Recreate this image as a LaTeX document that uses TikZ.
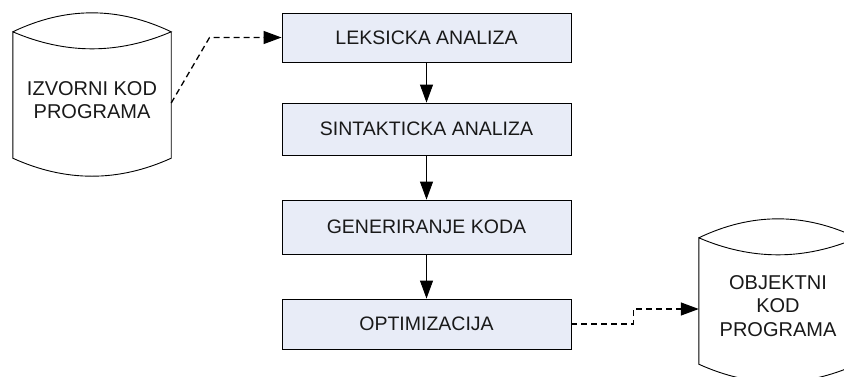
\documentclass[tikz,border=0pt]{standalone}
\usepackage{fontspec}
\setmainfont{Liberation Sans}
\usetikzlibrary{arrows.meta,calc}
\definecolor{boxfill}{RGB}{232,236,247}

% Outline of a "stored data" drum around a named body node
\newcommand\drumoutline[1]{%
  \draw[outline] (#1.north west)
    .. controls ($(#1.north west)+(53,-25.3)$) and ($(#1.north east)+(-53,-25.3)$) .. (#1.north east)
    .. controls ($(#1.north east)+(-53,22.7)$) and ($(#1.north west)+(53,22.7)$) .. (#1.north west)
    -- (#1.south west)
    .. controls ($(#1.south west)+(53,24)$) and ($(#1.south east)+(-53,24)$) .. (#1.south east)
    -- (#1.north east);}

\begin{document}
\begin{tikzpicture}[x=1pt,y=-1pt,
  stage/.style={draw=black, line width=0.9pt, fill=boxfill, minimum width=289pt,
    inner sep=0pt, text=black!90, font=\fontsize{19.5}{23}\selectfont},
  drumbody/.style={minimum width=158pt, minimum height=126pt, inner sep=0pt},
  drumtext/.style={align=center, inner sep=0pt, text=black!90,
    font=\fontsize{20}{23.5}\selectfont},
  outline/.style={line width=0.9pt},
  flow/.style={line width=0.9pt, -{Triangle[length=18pt,width=13pt]}},
  dataflow/.style={line width=1.3pt, dash pattern=on 6pt off 4pt,
    -{Triangle[length=18pt,width=13pt]}}]
\fill[white] (0,0) rectangle (844,376);
\useasboundingbox (0,0) rectangle (844,376);
\clip (0,0) rectangle (844,376);

% compiler stages
\node[stage, minimum height=49pt] (leks) at (426.5,37.5) {LEKSICKA ANALIZA};
\node[stage, minimum height=52pt] (sint) at (426.5,129)  {SINTAKTICKA ANALIZA};
\node[stage, minimum height=54pt] (gen)  at (426.5,227)  {GENERIRANJE KODA};
\node[stage, minimum height=50pt] (opt)  at (426.5,324)  {OPTIMIZACIJA};

% source and object code stores
\node[drumbody] (izvor) at (92,95) {};
\drumoutline{izvor}
\node[drumtext] (izvorT) at (92,100) {IZVORNI KOD\\PROGRAMA};

\node[drumbody] (obj) at (778,301) {};
\drumoutline{obj}
\node[drumtext] (objT) at (778,306) {OBJEKTNI\\KOD\\PROGRAMA};

% flow between stages
\draw[flow] (leks) -- (sint);
\draw[flow] (sint) -- (gen);
\draw[flow] (gen) -- (opt);

% data flow in and out
\draw[dataflow] ($(izvor.east)+(0,8)$) -- ($(leks.west)+(-72,0)$) -- (leks.west);
\draw[dataflow] (opt.east) -- ++(62,0) |- ($(obj.west)+(0,8)$);
\end{tikzpicture}
\end{document}
